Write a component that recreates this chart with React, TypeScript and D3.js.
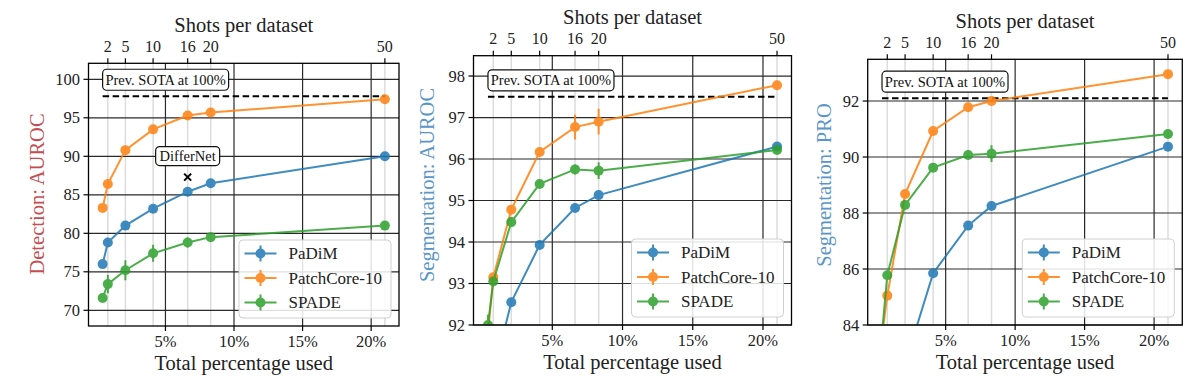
import React from "react";
import * as d3 from "d3";

// ---------- data ----------
const shots = [1, 2, 5, 10, 16, 20, 50];
const pctUsed = [0.42, 0.8, 2.08, 4.1, 6.62, 8.3, 21.0];
const topTickShots = [2, 5, 10, 16, 20, 50];
const xTicks = [5, 10, 15, 20];
const seriesNames = ["PaDiM", "PatchCore-10", "SPADE"];
const seriesColors = ["#1f77b4", "#ff7f0e", "#2ca02c"];

// Detection AUROC
const detPadim = [76.0, 78.8, 81.0, 83.2, 85.4, 86.5, 90.0];
const detPadimErr = [0.3, 0.3, 0.3, 0.3, 0.3, 0.2, 0.1];
const detPatch = [83.3, 86.4, 90.8, 93.5, 95.3, 95.7, 97.4];
const detPatchErr = [0.2, 0.3, 0.3, 0.2, 0.2, 0.2, 0.1];
const detSpade = [71.6, 73.4, 75.2, 77.4, 78.8, 79.5, 81.0];
const detSpadeErr = [0.3, 1.2, 1.3, 1.1, 0.65, 0.45, 0.2];
const detYTicks = [70, 75, 80, 85, 90, 95, 100];
const detSota = 97.8;
const differNetShot = 16;
const differNetValue = 87.3;

// Segmentation AUROC
const segPadim = [89.5, 90.8, 92.55, 93.93, 94.82, 95.13, 96.3];
const segPadimErr = [0.05, 0.05, 0.05, 0.05, 0.05, 0.05, 0.05];
const segPatch = [91.8, 93.15, 94.78, 96.17, 96.77, 96.9, 97.78];
const segPatchErr = [0.1, 0.1, 0.1, 0.05, 0.3, 0.31, 0.05];
const segSpade = [92.0, 93.05, 94.48, 95.4, 95.75, 95.72, 96.22];
const segSpadeErr = [0.25, 0.1, 0.1, 0.1, 0.12, 0.2, 0.05];
const segYTicks = [92, 93, 94, 95, 96, 97, 98];
const segSota = 97.5;

// Segmentation PRO
const proPadim = [79.5, 80.5, 82.6, 85.85, 87.55, 88.25, 90.37];
const proPadimErr = [0.1, 0.1, 0.1, 0.1, 0.1, 0.15, 0.05];
const proPatch = [83.6, 85.05, 88.68, 90.93, 91.78, 92.0, 92.96];
const proPatchErr = [0.05, 0.05, 0.05, 0.05, 0.05, 0.05, 0.05];
const proSpade = [83.7, 85.78, 88.29, 89.62, 90.07, 90.12, 90.82];
const proSpadeErr = [0.1, 0.1, 0.1, 0.1, 0.1, 0.3, 0.05];
const proYTicks = [84, 86, 88, 90, 92];
const proSota = 92.1;

const FONT = "'Liberation Serif', 'DejaVu Serif', serif";
const RED = "#c44e52";
const BLUE = "#5a96c8";
const TEXT = "#222";

type Panel = {
  id: string;
  left: number;
  right: number;
  top: number;
  bottom: number;
  yDomain: [number, number];
  yTicks: number[];
  values: number[][];
  errs: number[][];
  sota: number;
  ylabel: string;
  ylabelColor: string;
  ylabelX: number;
  ylabelY: number;
  differNet?: boolean;
};

const panels: Panel[] = [
  {
    id: "det",
    left: 88.5,
    right: 399,
    top: 63.3,
    bottom: 326,
    yDomain: [67.96, 102.08],
    yTicks: detYTicks,
    values: [detPadim, detPatch, detSpade],
    errs: [detPadimErr, detPatchErr, detSpadeErr],
    sota: detSota,
    ylabel: "Detection: AUROC",
    ylabelColor: RED,
    ylabelX: 37,
    ylabelY: 194,
    differNet: true,
  },
  {
    id: "seg",
    left: 473.5,
    right: 791.5,
    top: 55.7,
    bottom: 325,
    yDomain: [92, 98.49],
    yTicks: segYTicks,
    values: [segPadim, segPatch, segSpade],
    errs: [segPadimErr, segPatchErr, segSpadeErr],
    sota: segSota,
    ylabel: "Segmentation: AUROC",
    ylabelColor: BLUE,
    ylabelX: 427,
    ylabelY: 185,
  },
  {
    id: "pro",
    left: 867.7,
    right: 1182.3,
    top: 59.3,
    bottom: 325,
    yDomain: [84, 93.49],
    yTicks: proYTicks,
    values: [proPadim, proPatch, proSpade],
    errs: [proPadimErr, proPatchErr, proSpadeErr],
    sota: proSota,
    ylabel: "Segmentation: PRO",
    ylabelColor: BLUE,
    ylabelX: 824,
    ylabelY: 185,
  },
];

function PanelView({ p }: { p: Panel }) {
  const x = d3.scaleLinear().domain([-0.61, 22.03]).range([p.left, p.right]);
  const y = d3.scaleLinear().domain(p.yDomain).range([p.bottom, p.top]);
  const line = d3
    .line<number>()
    .x((_, i) => x(pctUsed[i]))
    .y((v) => y(v));
  const clipId = `clip-${p.id}`;
  const sotaY = y(p.sota);
  const sotaX0 = x(pctUsed[0]);
  const sotaX1 = x(pctUsed[pctUsed.length - 1]);
  const boxW = 126;
  const boxH = 21;
  const boxCY = sotaY - 16.5;

  const legW = 152;
  const legH = 78;
  const legX = p.right - 8 - legW;
  const legY = p.bottom - 8 - legH;

  const dnX = x(pctUsed[shots.indexOf(differNetShot)]);
  const dnY = y(differNetValue);

  return (
    <g>
      <defs>
        <clipPath id={clipId}>
          <rect x={p.left} y={p.top} width={p.right - p.left} height={p.bottom - p.top} />
        </clipPath>
      </defs>
      <rect x={p.left} y={p.top} width={p.right - p.left} height={p.bottom - p.top} fill="#fff" />
      {/* light top-axis grid */}
      {topTickShots.map((s) => {
        const xx = x(pctUsed[shots.indexOf(s)]);
        return <line key={"lg" + s} x1={xx} x2={xx} y1={p.top} y2={p.bottom} stroke="#dcdcdc" strokeWidth={1.5} />;
      })}
      {/* dark grid */}
      {xTicks.map((t) => (
        <line key={"xg" + t} x1={x(t)} x2={x(t)} y1={p.top} y2={p.bottom} stroke="#2a2a2a" strokeWidth={1.2} />
      ))}
      {p.yTicks.map((t) => (
        <line key={"yg" + t} x1={p.left} x2={p.right} y1={y(t)} y2={y(t)} stroke="#2a2a2a" strokeWidth={1.2} />
      ))}
      {/* SOTA dashed line */}
      <line x1={sotaX0} x2={sotaX1} y1={sotaY} y2={sotaY} stroke="#000" strokeWidth={2} strokeDasharray="6.5,3.5" />
      {/* series */}
      <g clipPath={`url(#${clipId})`}>
        {p.values.map((vals, si) => (
          <g key={"s" + si} opacity={0.85}>
            <path d={line(vals) || ""} fill="none" stroke={seriesColors[si]} strokeWidth={2} />
            {vals.map((v, i) => (
              <line
                key={"e" + i}
                x1={x(pctUsed[i])}
                x2={x(pctUsed[i])}
                y1={y(v - p.errs[si][i])}
                y2={y(v + p.errs[si][i])}
                stroke={seriesColors[si]}
                strokeWidth={2}
              />
            ))}
            {vals.map((v, i) => (
              <circle key={"c" + i} cx={x(pctUsed[i])} cy={y(v)} r={5} fill={seriesColors[si]} />
            ))}
          </g>
        ))}
      </g>
      {/* frame */}
      <rect x={p.left} y={p.top} width={p.right - p.left} height={p.bottom - p.top} fill="none" stroke="#000" strokeWidth={1.3} />
      {/* y ticks */}
      {p.yTicks.map((t) => (
        <g key={"yt" + t}>
          <line x1={p.left - 5} x2={p.left} y1={y(t)} y2={y(t)} stroke="#000" strokeWidth={1.2} />
          <text x={p.left - 8.5} y={y(t)} textAnchor="end" dominantBaseline="central" fontSize={16.5} fill={TEXT} fontFamily={FONT}>
            {t}
          </text>
        </g>
      ))}
      {/* x ticks */}
      {xTicks.map((t) => (
        <g key={"xt" + t}>
          <line x1={x(t)} x2={x(t)} y1={p.bottom} y2={p.bottom + 5} stroke="#000" strokeWidth={1.2} />
          <text x={x(t)} y={p.bottom + 15.7} textAnchor="middle" dominantBaseline="central" fontSize={16.5} fill={TEXT} fontFamily={FONT}>
            {t}%
          </text>
        </g>
      ))}
      {/* top ticks */}
      {topTickShots.map((s) => {
        const xx = x(pctUsed[shots.indexOf(s)]);
        return (
          <g key={"tt" + s}>
            <line x1={xx} x2={xx} y1={p.top - 5} y2={p.top} stroke="#000" strokeWidth={1.2} />
            <text x={xx} y={p.top - 17.3} textAnchor="middle" dominantBaseline="central" fontSize={16} fill={TEXT} fontFamily={FONT}>
              {s}
            </text>
          </g>
        );
      })}
      {/* axis titles */}
      <text x={(p.left + p.right) / 2} y={p.top - 38.6} textAnchor="middle" dominantBaseline="central" fontSize={20.5} fill={TEXT} fontFamily={FONT}>
        Shots per dataset
      </text>
      <text x={(p.left + p.right) / 2} y={p.bottom + 37.3} textAnchor="middle" dominantBaseline="central" fontSize={20.5} fill={TEXT} fontFamily={FONT}>
        Total percentage used
      </text>
      <text
        transform={`translate(${p.ylabelX},${p.ylabelY}) rotate(-90)`}
        textAnchor="middle"
        dominantBaseline="central"
        fontSize={20.5}
        fill={p.ylabelColor}
        fontFamily={FONT}
      >
        {p.ylabel}
      </text>
      {/* SOTA annotation */}
      <rect x={sotaX0} y={boxCY - boxH / 2} width={boxW} height={boxH} rx={4} fill="#fff" stroke="#111" strokeWidth={1.2} />
      <text x={sotaX0 + boxW / 2} y={boxCY} textAnchor="middle" dominantBaseline="central" fontSize={14.5} fill="#111" fontFamily={FONT}>
        Prev. SOTA at 100%
      </text>
      {/* DifferNet */}
      {p.differNet && (
        <g>
          <path d={`M${dnX - 3.5},${dnY - 3.5}L${dnX + 3.5},${dnY + 3.5}M${dnX - 3.5},${dnY + 3.5}L${dnX + 3.5},${dnY - 3.5}`} stroke="#000" strokeWidth={2} />
          <rect x={dnX - 32} y={dnY - 21 - 9.5} width={64} height={19} rx={4} fill="#fff" stroke="#111" strokeWidth={1.2} />
          <text x={dnX} y={dnY - 21} textAnchor="middle" dominantBaseline="central" fontSize={14.5} fill="#111" fontFamily={FONT}>
            DifferNet
          </text>
        </g>
      )}
      {/* legend */}
      <g>
        <rect x={legX} y={legY} width={legW} height={legH} rx={4} fill="#fff" fillOpacity={0.85} stroke="#d0d0d0" strokeWidth={1} />
        {seriesNames.map((n, i) => {
          const cy = legY + 13.5 + i * 24.5;
          return (
            <g key={n}>
              <g opacity={0.85}>
                <line x1={legX + 5.5} x2={legX + 37.5} y1={cy} y2={cy} stroke={seriesColors[i]} strokeWidth={2} />
                <line x1={legX + 21.5} x2={legX + 21.5} y1={cy - 8} y2={cy + 8} stroke={seriesColors[i]} strokeWidth={2} />
                <circle cx={legX + 21.5} cy={cy} r={5} fill={seriesColors[i]} />
              </g>
              <text x={legX + 49.5} y={cy} dominantBaseline="central" fontSize={17} fill={TEXT} fontFamily={FONT}>
                {n}
              </text>
            </g>
          );
        })}
      </g>
    </g>
  );
}

export default function App() {
  return (
    <svg
      width={1200}
      height={392}
      viewBox="0 0 1200 392"
      style={{ position: "absolute", left: 0, top: 0, background: "#fff" }}
    >
      <rect x={0} y={0} width={1200} height={392} fill="#fff" />
      {panels.map((p) => (
        <PanelView key={p.id} p={p} />
      ))}
    </svg>
  );
}
